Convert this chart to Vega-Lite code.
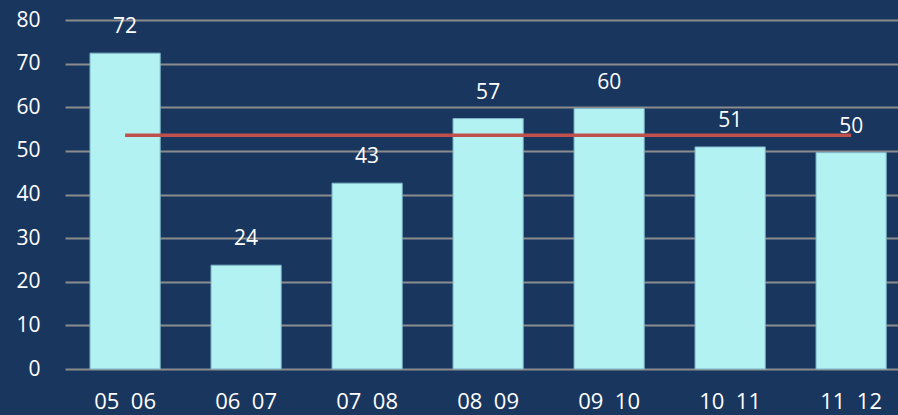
{
  "$schema": "https://vega.github.io/schema/vega-lite/v6.json",
  "width": 833,
  "height": 349,
  "autosize": {"type": "none"},
  "padding": {"left": 65, "top": 20, "right": 0, "bottom": 46},
  "background": "#19365f",
  "config": {
    "view": {"stroke": null},
    "font": "Open Sans",
    "axis": {"labelFont": "Open Sans", "labelColor": "#ffffff", "labelFontSize": 21, "title": null}
  },
  "data": {
    "values": [
      {"season": "05\u00a0\u00a006", "value": 72.4, "avg": 53.6},
      {"season": "06\u00a0\u00a007", "value": 23.8, "avg": 53.6},
      {"season": "07\u00a0\u00a008", "value": 42.6, "avg": 53.6},
      {"season": "08\u00a0\u00a009", "value": 57.4, "avg": 53.6},
      {"season": "09\u00a0\u00a010", "value": 59.7, "avg": 53.6},
      {"season": "10\u00a0\u00a011", "value": 50.9, "avg": 53.6},
      {"season": "11\u00a0\u00a012", "value": 49.6, "avg": 53.6}
    ]
  },
  "encoding": {
    "x": {
      "field": "season",
      "type": "nominal",
      "sort": null,
      "scale": {"paddingInner": 0.42, "paddingOuter": 0.152, "align": 0.68},
      "axis": {"labelAngle": 0, "domain": false, "ticks": false, "labelPadding": 22, "labelFontSize": 22}
    }
  },
  "layer": [
    {
      "mark": {"type": "bar", "color": "#b2f2f3", "stroke": "#7fb6c8", "strokeWidth": 1},
      "encoding": {
        "y": {
          "field": "value",
          "type": "quantitative",
          "scale": {"domain": [0, 80]},
          "axis": {
            "values": [0, 10, 20, 30, 40, 50, 60, 70, 80],
            "domain": false,
            "ticks": false,
            "gridColor": "#8c8c8c",
            "gridWidth": 2,
            "gridOpacity": 1,
            "labelPadding": 25
          }
        }
      }
    },
    {
      "mark": {"type": "text", "color": "#ffffff", "fontSize": 21, "baseline": "middle", "dy": -26},
      "encoding": {
        "y": {"field": "value", "type": "quantitative"},
        "text": {"field": "value", "type": "quantitative", "format": ".0f"}
      }
    },
    {
      "mark": {"type": "line", "color": "#c0504d", "strokeWidth": 3.5},
      "encoding": {
        "y": {"field": "avg", "type": "quantitative"}
      }
    }
  ]
}
